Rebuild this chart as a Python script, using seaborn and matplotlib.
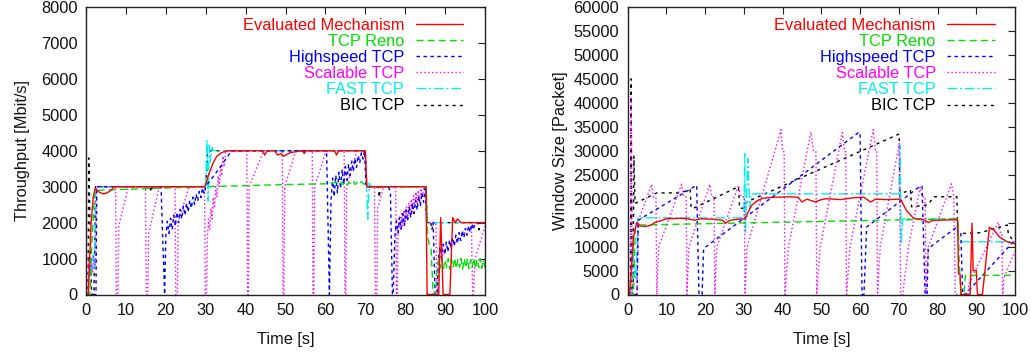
import matplotlib
matplotlib.use("Agg")
import matplotlib.pyplot as plt
import seaborn as sns
from matplotlib.lines import Line2D

# ---------------- LEFT PANEL: Throughput [Mbit/s] ----------------
eval_l_t = [0, 0.6, 0.9, 1.3, 1.8, 2.3, 3.3, 4.3, 5.3, 6.3, 7.0, 29.8, 30.8, 31.8, 32.8, 34.0, 35.5,
            44.3, 44.8, 45.4, 47.3, 48.0, 48.8, 49.6, 50.4, 51.2, 54.3, 54.7, 55.1, 62.3, 62.8, 63.3,
            70.0, 70.4, 85.2, 85.5, 88.4, 88.9, 89.5, 91.2, 91.9, 92.5, 93.1, 94.0, 100]
eval_l_v = [0, 0, 1000, 2000, 2700, 2950, 2850, 2800, 2830, 2900, 3000, 3000, 3350, 3650, 3850, 3950, 4000,
            4000, 3880, 4000, 4000, 3880, 3920, 3850, 3900, 3950, 4000, 3920, 4000, 4000, 3880, 4000,
            4000, 3000, 3000, 0, 0, 2140, 0, 0, 2140, 2000, 2100, 2000, 2000]

reno_l_t = [0, 1.0, 1.5, 2.2, 3.0, 30.0, 40.0, 50.0, 60.0, 63.0, 63.5, 64.0, 64.5, 65.0, 65.5, 66.0,
            66.5, 67.0, 67.5, 68.0, 68.5, 69.0, 69.5, 70.1, 70.5, 85.3, 85.6, 86.0, 86.5, 87.0, 87.6,
            88.0, 88.4, 88.8, 89.2, 89.6, 90.0, 90.4, 90.8, 91.2, 91.6, 92.0, 92.4, 92.8, 93.2, 93.6,
            94.0, 94.4, 94.8, 95.2, 95.6, 96.0, 96.4, 96.8, 97.2, 97.6, 98.0, 98.4, 98.8, 99.2, 99.6, 100]
reno_l_v = [0, 0, 1500, 2900, 2900, 3000, 3030, 3060, 3080, 3120, 3050, 3130, 3060, 3140, 3050, 3120,
            3070, 3150, 3060, 3130, 3080, 3150, 3070, 3100, 3000, 3000, 1600, 1400, 1250, 0, 0,
            700, 980, 740, 1000, 720, 960, 760, 1000, 700, 980, 750, 1010, 720, 970, 760,
            1000, 710, 990, 740, 1000, 720, 970, 760, 1010, 720, 980, 750, 1000, 730, 970, 760]

hs_l_t = [0, 2.5, 2.7, 18.8, 19.7, 20.0, 20.4, 20.8, 21.2, 21.6, 22.0, 22.4, 22.8, 23.2, 23.6, 24.0,
          24.4, 24.8, 25.2, 25.6, 26.0, 26.4, 26.8, 27.2, 27.6, 28.0, 28.4, 28.8, 29.2, 29.6, 30.0,
          33.0, 36.5, 60.3, 61.0, 61.4, 61.8, 62.2, 62.6, 63.0, 63.4, 63.8, 64.2, 64.6, 65.0, 65.4,
          65.8, 66.2, 66.6, 67.0, 67.4, 67.8, 68.2, 68.6, 69.0, 69.4, 69.8, 70.2, 75.8, 76.3, 76.8,
          77.0, 77.4, 77.8, 78.2, 78.6, 79.0, 79.4, 79.8, 80.2, 80.6, 81.0, 81.4, 81.8, 82.2, 82.6,
          83.0, 83.4, 83.8, 84.2, 84.6, 85.0, 85.4, 87.0, 87.5, 88.0, 88.3, 88.7, 89.1, 89.5, 89.9,
          90.3, 90.7, 91.1, 91.5, 91.9, 92.3, 92.7, 93.1, 93.5, 93.9, 94.3, 94.7, 95.1, 95.5, 95.9,
          96.3, 96.7, 97.1, 97.5, 100]
hs_l_v = [0, 0, 3000, 3000, 0, 1600, 2040, 1700, 2120, 1800, 2210, 1900, 2290, 2000, 2370, 2100,
          2460, 2200, 2540, 2300, 2620, 2400, 2710, 2500, 2790, 2600, 2870, 2700, 2960, 2800, 3000,
          3450, 4000, 4000, 0, 2600, 3240, 2720, 3320, 2830, 3400, 2950, 3480, 3070, 3560, 3180,
          3630, 3300, 3710, 3420, 3790, 3540, 3870, 3660, 3940, 3770, 4000, 3000, 3000, 2840, 0,
          0, 1600, 2050, 1710, 2150, 1820, 2250, 1920, 2340, 2030, 2440, 2140, 2540, 2250, 2630,
          2350, 2730, 2460, 2830, 2570, 2950, 2000, 2000, 0, 0, 950, 1330, 1030, 1400, 1110,
          1460, 1190, 1520, 1270, 1590, 1350, 1650, 1420, 1720, 1500, 1780, 1580, 1840, 1650, 1910,
          1730, 1970, 1800, 2000, 2000]

sc_l_t = [0, 0.5, 0.7, 1.0, 1.3, 1.6, 1.9, 2.4, 2.6, 7.4, 7.6, 8.0, 8.2, 10.6, 14.9, 15.1, 15.5,
          15.7, 18.4, 22.3, 22.5, 22.9, 23.1, 25.8, 29.7, 29.9, 30.2, 30.4, 30.7, 31.0, 31.3, 31.6,
          31.9, 32.2, 32.5, 32.8, 33.1, 33.4, 33.7, 34.0, 34.3, 34.6, 35.0, 40.3, 40.5, 40.7, 40.9,
          44.5, 49.2, 49.4, 49.6, 49.8, 52.6, 56.7, 56.9, 57.1, 57.3, 60.2, 64.7, 64.9, 65.1, 65.3,
          67.9, 70.0, 70.3, 72.3, 72.5, 72.9, 73.1, 74.6, 77.6, 77.8, 78.0, 78.2, 78.5, 78.8, 79.1,
          79.4, 79.7, 80.0, 80.3, 80.6, 80.9, 81.2, 81.5, 81.8, 82.1, 82.4, 82.7, 83.0, 83.3, 83.6,
          83.9, 84.2, 84.8, 85.2, 85.5, 87.7, 87.9, 88.2, 88.4, 96.6, 96.9, 97.1, 97.5, 100]
sc_l_v = [0, 0, 1000, 500, 900, 600, 1050, 800, 3000, 3000, 0, 0, 1900, 3000, 3000, 0, 0,
          1700, 3000, 3000, 0, 0, 2000, 3000, 3000, 0, 0, 1500, 2100, 1800, 2400, 2100,
          2700, 2400, 3000, 2700, 3300, 3000, 3600, 3300, 3850, 3550, 4000, 4000, 0, 0, 3000,
          4000, 4000, 0, 0, 3000, 4000, 4000, 0, 0, 3000, 4000, 4000, 0, 0, 3000,
          4000, 4000, 3000, 3000, 0, 0, 2400, 3000, 3000, 0, 0, 1700, 2150, 1800, 2250,
          1900, 2350, 2000, 2450, 2100, 2550, 2200, 2650, 2300, 2750, 2400, 2850, 2500, 2900, 2600,
          2950, 2700, 3000, 3000, 2000, 2000, 0, 0, 1000, 1900, 0, 0, 1000, 1900]

fast_l_t = [0, 0.6, 0.9, 1.3, 1.7, 2.1, 2.4, 30.0, 30.3, 30.6, 30.9, 31.2, 31.6, 32.0, 70.0, 70.3,
            70.6, 71.0, 71.4, 85.2, 85.5, 100]
fast_l_v = [0, 0, 1000, 600, 1100, 700, 3000, 3000, 4300, 2600, 4150, 3700, 4100, 4000, 4000, 3000,
            2100, 3100, 3000, 3000, 2000, 2000]

bic_l_t = [0, 0.5, 0.7, 0.9, 1.4, 2.0, 2.4, 16.0, 16.3, 16.6, 30.0, 30.5, 70.0, 70.3, 73.2, 73.5,
           73.8, 85.2, 85.5, 86.4, 86.7, 87.0, 98.2, 98.5, 98.8, 100]
bic_l_v = [0, 0, 3800, 2600, 0, 0, 3000, 3000, 2850, 3000, 3000, 4000, 4000, 3000, 3000, 2700,
           3000, 3000, 2000, 2000, 1800, 2000, 2000, 1800, 2000, 2000]

# ---------------- RIGHT PANEL: Window Size [Packet] ----------------
eval_r_t = [0, 0.5, 1.0, 1.5, 2.3, 3.2, 4.5, 5.8, 7.0, 10.0, 13.5, 15.5, 17.3, 19.0, 22.0, 24.5,
            25.3, 26.5, 28.5, 30.3, 31.0, 32.0, 33.5, 35.0, 38.0, 42.0, 44.0, 45.0, 46.3, 48.4, 50.0,
            51.4, 55.0, 58.3, 61.0, 62.7, 64.0, 67.0, 70.0, 70.8, 72.0, 73.8, 76.5, 77.6, 78.5, 80.0,
            84.5, 85.2, 85.4, 85.8, 86.1, 88.4, 88.9, 89.2, 90.0, 90.3, 91.6, 93.4, 94.5, 96.0, 98.0, 100]
eval_r_v = [0, 0, 6000, 12000, 15000, 14300, 14200, 14400, 15000, 15800, 15900, 15800, 15500, 15800, 15700, 15500,
            14900, 15500, 15700, 15800, 17000, 18600, 19600, 20100, 20300, 20400, 20300, 19300, 19900, 19300, 19800,
            20000, 19800, 20200, 20300, 19300, 19900, 19800, 19900, 19300, 17500, 15900, 15600, 15000, 15400, 15500,
            15600, 15500, 4300, 4300, 0, 0, 14900, 5000, 5000, 0, 0, 14000, 13500, 12000, 11000, 10600]

reno_r_t = [0, 1.5, 2.0, 2.5, 85.0, 85.3, 85.6, 86.0, 86.8, 87.2, 100]
reno_r_v = [0, 0, 14000, 14500, 15800, 15800, 7000, 0, 0, 4000, 4000]

hs_r_t = [0, 2.4, 2.7, 17.8, 18.4, 19.2, 19.6, 59.6, 60.0, 60.5, 61.0, 61.7, 75.5, 76.0, 76.8,
          77.3, 77.6, 85.0, 85.3, 86.0, 86.5, 87.1, 100]
hs_r_v = [0, 0, 15500, 22800, 0, 0, 9600, 33800, 33800, 0, 0, 14100, 22600, 22600, 0,
          0, 9600, 14100, 13000, 13000, 0, 0, 11400]

sc_r_t = [0, 0.7, 0.9, 1.2, 2.4, 2.8, 6.2, 6.6, 7.3, 7.5, 8.0, 13.9, 14.5, 15.1, 15.3, 15.8,
          21.2, 21.7, 22.3, 22.5, 23.0, 28.6, 29.2, 30.1, 30.3, 30.8, 39.6, 40.0, 40.4, 40.6, 41.5,
          47.3, 48.0, 48.6, 48.8, 49.7, 55.4, 56.0, 56.3, 56.5, 57.4, 63.4, 64.0, 64.3, 64.5, 65.2,
          70.1, 70.5, 71.0, 72.5, 75.5, 76.0, 76.8, 77.0, 77.6, 83.6, 84.2, 84.6, 87.9, 88.0, 95.7,
          96.2, 96.6, 96.8, 97.2, 100]
sc_r_v = [0, 0, 41000, 0, 0, 15500, 23000, 20400, 20400, 0, 9900, 23000, 20400, 20400, 0, 9900,
          23000, 20400, 20400, 0, 9900, 22800, 20400, 20400, 0, 9900, 34400, 29800, 29800, 0, 9900,
          33900, 29800, 29800, 0, 9900, 33800, 29800, 29800, 0, 9900, 34400, 29800, 29800, 0, 9900,
          31500, 0, 0, 10000, 22400, 20400, 20400, 0, 9900, 23100, 20400, 0, 0, 2000, 15100,
          13000, 13000, 0, 3600, 9000]

fast_r_t = [0, 1.1, 1.5, 1.9, 2.2, 2.6, 30.0, 30.2, 30.4, 31.0, 31.5, 32.0, 70.0, 70.3, 70.6,
            71.0, 85.0, 85.4, 100]
fast_r_v = [0, 0, 10000, 5000, 3000, 16000, 16000, 29400, 12700, 28400, 18000, 21000, 21000, 31200, 10600,
            15800, 15800, 11000, 11000]

bic_r_t = [0, 0.7, 0.9, 1.1, 1.4, 1.6, 1.9, 7.5, 13.5, 16.1, 16.4, 17.0, 28.6, 28.9, 29.8, 30.7,
           70.1, 70.3, 70.6, 73.0, 73.3, 77.5, 79.0, 85.0, 85.2, 85.6, 91.0, 98.0, 98.3, 99.5, 100]
bic_r_v = [0, 0, 45000, 0, 0, 28900, 19000, 21200, 21200, 21900, 18000, 18000, 22500, 18000, 18000, 19300,
           33500, 20400, 21100, 21800, 18300, 18700, 20400, 20400, 12700, 12700, 12900, 14500, 12500, 11300, 11300]

labels = ["Evaluated Mechanism", "TCP Reno", "Highspeed TCP", "Scalable TCP", "FAST TCP", "BIC TCP"]
colors = ["#ff0000", "#00e000", "#0000ff", "#ff00ff", "#00f0f0", "#000000"]
dashes = [None, (5, 3), (2.5, 2.5), (1, 1.8), (7, 2, 1.5, 2), (2.2, 3)]

left_series = [(eval_l_t, eval_l_v), (reno_l_t, reno_l_v), (hs_l_t, hs_l_v),
               (sc_l_t, sc_l_v), (fast_l_t, fast_l_v), (bic_l_t, bic_l_v)]
right_series = [(eval_r_t, eval_r_v), (reno_r_t, reno_r_v), (hs_r_t, hs_r_v),
                (sc_r_t, sc_r_v), (fast_r_t, fast_r_v), (bic_r_t, bic_r_v)]

sns.set_theme(style="white")
plt.rcParams['font.family'] = ['Liberation Sans', 'DejaVu Sans']
plt.rcParams['axes.labelweight'] = 'normal'

FS = 11.8
fig = plt.figure(figsize=(10.31, 3.54), dpi=100)
W, H = 1031, 354
ax1 = fig.add_axes([86 / W, 1 - 294.5 / H, 399 / W, 287.5 / H])
ax2 = fig.add_axes([627.7 / W, 1 - 294.5 / H, 387.3 / W, 287.5 / H])


def draw(ax, series, ymax, ystep, ylabel, anchor_x, ylabelpad):
    order = list(range(len(series)))[::-1]
    for i in order:
        t, v = series[i]
        sns.lineplot(x=t, y=v, ax=ax, color=colors[i], lw=1.0, estimator=None,
                     sort=False, legend=False)
        line = ax.lines[-1]
        if dashes[i] is not None:
            line.set_dashes(dashes[i])
    handles = []
    for i in range(len(series)):
        h = Line2D([], [], color=colors[i], lw=1.0)
        if dashes[i] is not None:
            h.set_dashes(dashes[i])
        handles.append(h)
    ax.set_xlim(0, 100)
    ax.set_ylim(0, ymax)
    ax.set_xticks(range(0, 101, 10))
    ax.set_yticks(range(0, ymax + 1, ystep))
    ax.tick_params(direction='in', length=5, width=0.8, top=True, right=True,
                   labelsize=FS, pad=6, colors='#222222', labelcolor='#111111')
    for s in ax.spines.values():
        s.set_color('#222222')
        s.set_linewidth(1.0)
        s.set_visible(True)
    ax.set_xlabel("Time [s]", fontsize=FS, labelpad=10, color='#111111', fontweight='normal')
    ax.set_ylabel(ylabel, fontsize=FS, labelpad=ylabelpad, color='#111111', fontweight='normal')
    ax.grid(False)
    ax.legend(handles, labels, loc='upper right', bbox_to_anchor=(anchor_x, 0.963),
              frameon=False, markerfirst=False, labelcolor='linecolor', fontsize=FS,
              handlelength=2.9, handletextpad=0.7, labelspacing=0.07, borderpad=0,
              borderaxespad=0)


draw(ax1, left_series, 8000, 1000, "Throughput [Mbit/s]", 0.945, 8)
draw(ax2, right_series, 60000, 5000, "Window Size [Packet]", 0.948, 4)

fig.savefig("out.png", dpi=100, facecolor='white')
